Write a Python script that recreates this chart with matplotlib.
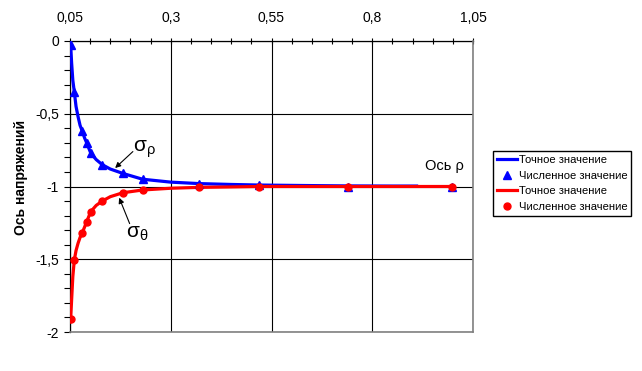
import matplotlib
matplotlib.use("Agg")
import matplotlib.pyplot as plt
from matplotlib.ticker import MultipleLocator, FixedLocator

plt.rcParams['font.family'] = ['Liberation Sans', 'DejaVu Sans']
plt.rcParams['axes.unicode_minus'] = False

# exact solution
rho_line_r = [0.0505, 0.0517, 0.054, 0.057, 0.0607, 0.065, 0.07, 0.075, 0.0805, 0.086, 0.0914,
              0.1014, 0.115, 0.13, 0.15, 0.181, 0.23, 0.30, 0.37, 0.45, 0.52, 0.62, 0.74, 0.85, 0.91]
sigma_rho_line = [-0.01, -0.03, -0.15, -0.27, -0.35, -0.45, -0.52, -0.58, -0.62, -0.665, -0.70,
                  -0.77, -0.815, -0.85, -0.88, -0.91, -0.95, -0.97, -0.98, -0.986, -0.99, -0.993,
                  -0.996, -0.997, -0.997]
rho_line_t = [0.0505, 0.0517, 0.054, 0.057, 0.0607, 0.065, 0.07, 0.075, 0.0805, 0.086, 0.0914,
              0.1014, 0.115, 0.13, 0.15, 0.181, 0.23, 0.30, 0.37, 0.45, 0.52, 0.62, 0.74, 0.85, 1.0]
sigma_theta_line = [-1.93, -1.91, -1.78, -1.62, -1.505, -1.44, -1.39, -1.35, -1.317, -1.28, -1.242,
                    -1.173, -1.13, -1.10, -1.07, -1.043, -1.024, -1.012, -1.006, -1.003, -1.0, -1.0,
                    -1.0, -1.0, -1.0]

# numerical solution (markers)
rho_num = [0.0517, 0.0607, 0.0805, 0.0914, 0.1014, 0.130, 0.181, 0.230, 0.370, 0.519, 0.739, 0.998]
sigma_rho_num = [-0.03, -0.35, -0.62, -0.70, -0.77, -0.85, -0.91, -0.95, -0.98, -0.99, -1.0, -1.0]
sigma_theta_num = [-1.91, -1.505, -1.317, -1.242, -1.173, -1.10, -1.043, -1.024, -1.006, -1.0, -1.0, -1.0]

x_ticks = [0.05, 0.3, 0.55, 0.8, 1.05]
x_labels = ['0,05', '0,3', '0,55', '0,8', '1,05']
y_ticks = [0, -0.5, -1, -1.5, -2]
y_labels = ['0', '-0,5', '-1', '-1,5', '-2']

fig = plt.figure(figsize=(6.42, 3.71), dpi=100)
ax = fig.add_axes([70/642, 1-332/371, 403/642, 291/371])

ax.plot(rho_line_r, sigma_rho_line, color='#0000ff', lw=2.3, label='Точное значение', zorder=3)
ax.plot(rho_num, sigma_rho_num, ls='none', marker='^', ms=6, color='#0000ff',
        label='Численное значение', zorder=4)
ax.plot(rho_line_t, sigma_theta_line, color='#ff0000', lw=2.3, label='Точное значение', zorder=3)
ax.plot(rho_num, sigma_theta_num, ls='none', marker='o', ms=5, color='#ff0000',
        label='Численное значение', zorder=4)

ax.set_xlim(0.05, 1.05)
ax.set_ylim(-2, 0)
ax.xaxis.tick_top()
ax.xaxis.set_major_locator(FixedLocator(x_ticks))
ax.set_xticklabels(x_labels)
ax.xaxis.set_minor_locator(MultipleLocator(0.05))
ax.yaxis.set_major_locator(FixedLocator(y_ticks))
ax.set_yticklabels(y_labels)
ax.yaxis.set_minor_locator(MultipleLocator(0.1))
ax.tick_params(axis='x', which='both', direction='inout', length=5, width=0.8, pad=9, labelsize=10)
ax.tick_params(axis='y', which='both', direction='out', length=4, width=0.8, pad=4, labelsize=10)
ax.grid(True, which='major', color='black', lw=0.8)

for side in ['top', 'left']:
    ax.spines[side].set_color('black')
    ax.spines[side].set_linewidth(0.9)
for side in ['bottom', 'right']:
    ax.spines[side].set_color('#808080')
    ax.spines[side].set_linewidth(1.2)
    ax.spines[side].set_zorder(5)

ax.set_ylabel('Ось напряжений', fontsize=10, fontweight='bold')
ax.yaxis.set_label_coords(-0.104, 0.53)

ax.text(0.928, 0.570, 'Ось ρ', transform=ax.transAxes, fontsize=10.5, ha='center', va='center')

# labels with arrows
ax.annotate('', xy=(0.162, -0.873), xytext=(0.206, -0.76),
            arrowprops=dict(arrowstyle='-|>', color='black', lw=0.8, mutation_scale=8,
                            shrinkA=0, shrinkB=0))
ax.text(0.235, -0.745, r'$\mathregular{σ_ρ}$', fontsize=15, ha='center', va='center')
ax.annotate('', xy=(0.172, -1.077), xytext=(0.198, -1.255),
            arrowprops=dict(arrowstyle='-|>', color='black', lw=0.8, mutation_scale=8,
                            shrinkA=0, shrinkB=0))
ax.text(0.216, -1.32, r'$\mathregular{σ_θ}$', fontsize=15, ha='center', va='center')

fig.legend(loc='center left', bbox_to_anchor=(493/642, 1-183.5/371), fontsize=8.1,
           frameon=True, fancybox=False, edgecolor='black', framealpha=1,
           handlelength=1.75, handletextpad=0.2, labelspacing=0.5, borderpad=0.35,
           borderaxespad=0)

fig.savefig('out.png', dpi=100)
